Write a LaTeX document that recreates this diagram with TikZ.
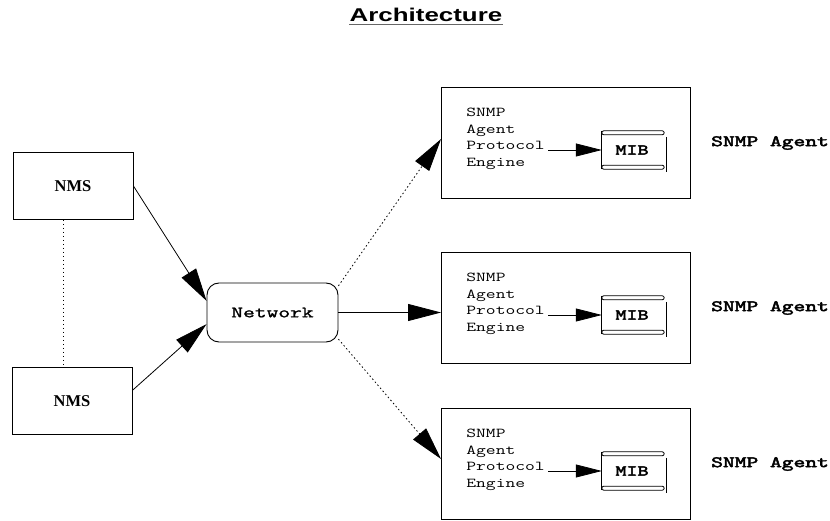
\documentclass[tikz,border=0pt]{standalone}
\usepackage{fontspec}
\setmainfont{Liberation Serif}
\newfontfamily\headfont{Liberation Sans}
\newfontfamily\ttbold[FakeBold=2.5]{lmmono10-regular.otf}
\newfontfamily\ttmed[FakeBold=1]{lmmono10-regular.otf}
\usetikzlibrary{arrows.meta,positioning,calc}

\tikzset{
  nmsbox/.style={draw,line width=0.9pt,minimum width=120pt,minimum height=67pt,inner sep=0pt,
    font=\bfseries\fontsize{16.5}{16.5}\selectfont},
  netbox/.style={draw,line width=0.9pt,rounded corners=12pt,minimum width=131pt,minimum height=59pt,
    inner sep=0pt,font=\ttmed\fontsize{16}{16}\selectfont},
  agentbox/.style={draw,line width=0.9pt,minimum width=249pt,minimum height=111pt,inner sep=0pt},
  engtext/.style={inner sep=0pt,align=left,xscale=1.4,font=\ttfamily\fontsize{13.6}{16.5}\selectfont},
  mibbox/.style={minimum width=60pt,minimum height=38pt,inner sep=0pt,
    font=\ttbold\fontsize{15}{15}\selectfont},
  agentlabel/.style={inner sep=0pt,xscale=1.4,font=\ttbold\fontsize{16}{16}\selectfont},
  bigarrow/.style={line width=0.8pt,-{Triangle[length=33pt,width=17pt]}},
  smallarrow/.style={line width=0.8pt,-{Triangle[length=26pt,width=13pt]}},
  dotline/.style={line width=0.8pt,dash pattern=on 1.5pt off 2.5pt}
}

\begin{document}
\begin{tikzpicture}[x=1pt,y=-1pt]
  \useasboundingbox (0,0) rectangle (830,521);

  % title
  \node[inner sep=0pt,text depth=0pt,xscale=1.4,font=\headfont\bfseries\fontsize{18.5}{18.5}\selectfont]
    (title) at (426,15) {Architecture};
  \draw[line width=1.5pt,black!60] ([yshift=-2.5pt]title.south west) -- ([yshift=-2.5pt]title.south east);

  % managers and network
  \node[nmsbox] (nms1) at (73,186) {NMS};
  \node[nmsbox] (nms2) at (72,401) {NMS};
  \node[netbox] (network) at (272.5,312.5) {\scalebox{1.4}[1]{Network}};

  \draw[dotline] ([xshift=-10pt]nms1.south) -- ([xshift=-10pt]nms1.south |- nms2.north);
  \draw[bigarrow] (nms1.east) -- (network.170);
  \draw[bigarrow] (nms2.10) -- (network.190);

  % agents
  \foreach \i/\y in {1/143,2/308,3/464}{
    \node[agentbox] (agent\i) at (566,\y) {};
    \node[engtext,anchor=west] (eng\i) at ([xshift=25pt,yshift=4pt]agent\i.west)
      {SNMP\\Agent\\Protocol\\Engine};
    \node[mibbox] (mib\i) at ([xshift=66pt,yshift=-7pt]agent\i.center) {\scalebox{1.4}[1]{MIB}};
    \draw[line width=0.8pt] (mib\i.north west) -- (mib\i.south west);
    \draw[line width=0.8pt,rounded corners=2pt] (mib\i.north west) rectangle ($(mib\i.north east)+(2,4)$);
    \draw[line width=0.8pt,rounded corners=2pt] ($(mib\i.south west)+(0,-4)$) rectangle ($(mib\i.south east)+(2,0)$);
    \draw[line width=0.8pt] ($(mib\i.north east)+(4,6)$) -- ($(mib\i.south east)+(4,3)$);
    \draw[smallarrow] ([xshift=3pt]eng\i.east |- mib\i.west) -- (mib\i.west);
    \node[agentlabel,anchor=west] (label\i) at ([xshift=20pt]agent\i.east) {SNMP Agent};
  }

  % network to agents
  \draw[dotline,-{Triangle[length=33pt,width=17pt]}] (network.22) -- ([yshift=4pt]agent1.west);
  \draw[bigarrow] (network.east) -- (network.east -| agent2.west);
  \draw[dotline,-{Triangle[length=33pt,width=17pt]}] (network.-22) -- ([yshift=5pt]agent3.west);
\end{tikzpicture}
\end{document}
